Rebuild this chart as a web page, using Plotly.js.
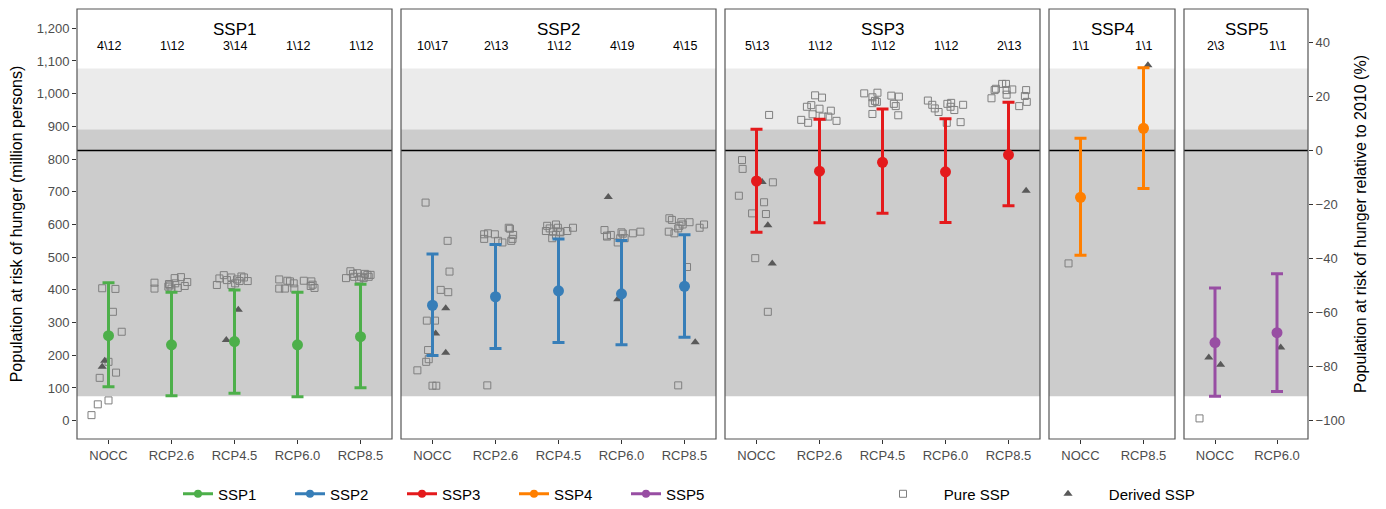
<!DOCTYPE html>
<html>
<head>
<meta charset="utf-8">
<script src="https://cdn.plot.ly/plotly-3.0.1.min.js"></script>
<style>
  html, body { margin: 0; padding: 0; background: #fff; }
  #chart { width: 1386px; height: 509px; }
</style>
</head>
<body>
<div id="chart"></div>
<script>
// Population at risk of hunger by SSP and climate scenario (million persons)
const sspNames = ['SSP1', 'SSP2', 'SSP3', 'SSP4', 'SSP5'];
const sspColors = ['#4daf4a', '#377eb8', '#e41a1c', '#ff7f00', '#984ea3'];

const ssp1Scen = ['NOCC', 'RCP2.6', 'RCP4.5', 'RCP6.0', 'RCP8.5'];
const ssp2Scen = ['NOCC', 'RCP2.6', 'RCP4.5', 'RCP6.0', 'RCP8.5'];
const ssp3Scen = ['NOCC', 'RCP2.6', 'RCP4.5', 'RCP6.0', 'RCP8.5'];
const ssp4Scen = ['NOCC', 'RCP8.5'];
const ssp5Scen = ['NOCC', 'RCP6.0'];

// study counts (derived \ total)
const ssp1Counts = ['4\\12', '1\\12', '3\\14', '1\\12', '1\\12'];
const ssp2Counts = ['10\\17', '2\\13', '1\\12', '4\\19', '4\\15'];
const ssp3Counts = ['5\\13', '1\\12', '1\\12', '1\\12', '2\\13'];
const ssp4Counts = ['1\\1', '1\\1'];
const ssp5Counts = ['2\\3', '1\\1'];

// ensemble mean and range
const ssp1Mean = [260, 232, 242, 232, 257];
const ssp1Hi   = [422, 393, 400, 393, 417];
const ssp1Lo   = [104, 76, 84, 73, 101];
const ssp2Mean = [353, 379, 397, 388, 411];
const ssp2Hi   = [510, 539, 556, 551, 569];
const ssp2Lo   = [199, 221, 239, 232, 255];
const ssp3Mean = [733, 763, 790, 761, 813];
const ssp3Hi   = [891, 922, 953, 923, 974];
const ssp3Lo   = [576, 605, 634, 606, 657];
const ssp4Mean = [683, 894];
const ssp4Hi   = [864, 1079];
const ssp4Lo   = [506, 710];
const ssp5Mean = [239, 269];
const ssp5Hi   = [406, 449];
const ssp5Lo   = [75, 89];

// individual study results: values and horizontal jitter (category units)
const ssp1PureVal = [
  [405, 403, 333, 272, 180, 147, 131, 50, 62, 17],
  [422, 404, 418, 410, 436, 439, 424, 412, 406, 404, 420, 414],
  [415, 435, 445, 438, 438, 427, 427, 415, 430, 432, 441, 420],
  [432, 404, 404, 428, 420, 428, 426, 416, 406, 404, 426, 412],
  [457, 436, 451, 440, 446, 446, 440, 436, 432, 440, 449, 449]
];
const ssp1PureJit = [
  [-0.10, 0.11, 0.07, 0.21, 0.00, 0.12, -0.14, -0.17, 0.00, -0.27],
  [-0.27, -0.27, -0.04, -0.05, 0.05, 0.15, 0.25, 0.21, 0.10, 0.00, 0.06, -0.03],
  [-0.28, -0.24, -0.17, -0.05, 0.15, 0.21, 0.08, -0.05, -0.12, 0.04, 0.11, 0.01],
  [-0.29, -0.29, -0.20, -0.16, -0.06, 0.10, 0.22, 0.24, 0.27, -0.05, -0.12, 0.21],
  [-0.16, -0.23, -0.05, 0.01, 0.11, 0.16, -0.10, 0.05, -0.02, 0.13, -0.12, 0.07]
];
const ssp1DerivVal = [[183, 165], [], [247, 339], [], []];
const ssp1DerivJit = [[-0.06, -0.10], [], [-0.13, 0.06], [], []];

const ssp2PureVal = [
  [667, 550, 456, 400, 393, 306, 306, 216, 188, 180, 154, 107, 107],
  [570, 573, 570, 556, 550, 545, 590, 587, 568, 556, 550, 108],
  [596, 600, 590, 580, 578, 578, 580, 590, 568, 576, 588, 558],
  [583, 566, 568, 576, 572, 558, 558, 573, 578, 545, 563],
  [619, 614, 607, 607, 596, 588, 578, 573, 590, 600, 600, 470, 108]
];
const ssp2PureJit = [
  [-0.11, 0.24, 0.27, 0.13, 0.25, -0.09, 0.04, -0.07, -0.06, -0.10, -0.24, 0.00, 0.06],
  [-0.18, -0.12, -0.01, -0.18, 0.04, 0.11, 0.21, 0.23, 0.28, 0.27, 0.25, -0.13],
  [-0.18, -0.04, -0.01, -0.20, -0.09, 0.02, 0.14, 0.23, -0.04, 0.03, -0.14, -0.10],
  [-0.27, -0.23, -0.17, 0.00, 0.02, -0.02, 0.05, 0.18, 0.30, -0.06, -0.23],
  [-0.24, -0.20, -0.05, 0.08, -0.08, -0.10, -0.25, -0.16, 0.24, 0.31, -0.03, 0.04, -0.10]
];
const ssp2DerivVal = [[344, 267, 208], [], [], [684, 371], [240]];
const ssp2DerivJit = [[0.21, 0.05, 0.21], [], [], [-0.21, -0.06], [0.17]];

const ssp3PureVal = [
  [935, 797, 770, 729, 688, 668, 634, 632, 497, 333],
  [995, 988, 960, 965, 954, 948, 937, 920, 911, 930, 917, 930],
  [1001, 1003, 989, 994, 991, 971, 975, 969, 962, 938, 934, 978],
  [979, 966, 955, 944, 972, 960, 950, 966, 911, 913, 969],
  [986, 1011, 1030, 1030, 1015, 1011, 1013, 997, 1011, 993, 975, 962]
];
const ssp3PureJit = [
  [0.20, -0.23, -0.22, 0.26, -0.28, 0.12, -0.07, 0.15, -0.02, 0.18],
  [-0.07, 0.04, -0.20, -0.13, 0.00, 0.18, -0.11, -0.29, -0.18, 0.14, 0.27, 0.05],
  [-0.29, -0.08, -0.16, 0.14, 0.26, -0.16, -0.09, 0.18, 0.21, -0.16, 0.25, -0.12],
  [-0.28, -0.21, -0.17, -0.11, 0.09, 0.08, 0.14, 0.28, 0.02, 0.24, 0.03],
  [-0.27, -0.22, -0.10, -0.04, -0.20, -0.03, 0.06, -0.03, 0.28, 0.26, 0.29, 0.17]
];
const ssp3DerivVal = [[730, 598, 481], [], [], [], [703]];
const ssp3DerivJit = [[0.09, 0.18, 0.25], [], [], [], [0.28]];

const ssp4PureVal = [[481], []];
const ssp4PureJit = [[-0.19], []];
const ssp4DerivVal = [[], [1087]];
const ssp4DerivJit = [[], [0.07]];

const ssp5PureVal = [[7], []];
const ssp5PureJit = [[-0.25], []];
const ssp5DerivVal = [[193, 171], [224]];
const ssp5DerivJit = [[-0.10, 0.09], [0.06]];

// 2010 reference level and shaded uncertainty bands (million persons)
const base2010 = 826;
const bandDark = [75, 891];
const bandLight = [891, 1077];

// ---------------------------------------------------------------------------
const scen = [ssp1Scen, ssp2Scen, ssp3Scen, ssp4Scen, ssp5Scen];
const counts = [ssp1Counts, ssp2Counts, ssp3Counts, ssp4Counts, ssp5Counts];
const means = [ssp1Mean, ssp2Mean, ssp3Mean, ssp4Mean, ssp5Mean];
const his = [ssp1Hi, ssp2Hi, ssp3Hi, ssp4Hi, ssp5Hi];
const los = [ssp1Lo, ssp2Lo, ssp3Lo, ssp4Lo, ssp5Lo];
const pureV = [ssp1PureVal, ssp2PureVal, ssp3PureVal, ssp4PureVal, ssp5PureVal];
const pureJ = [ssp1PureJit, ssp2PureJit, ssp3PureJit, ssp4PureJit, ssp5PureJit];
const derV = [ssp1DerivVal, ssp2DerivVal, ssp3DerivVal, ssp4DerivVal, ssp5DerivVal];
const derJ = [ssp1DerivJit, ssp2DerivJit, ssp3DerivJit, ssp4DerivJit, ssp5DerivJit];

const FONT = 'Liberation Sans, Arial, sans-serif';
const TICK = '#4d4d4d';
const W = 1386, ML = 77, MR = 78;
const plotW = W - ML - MR;
// panel widths proportional to number of scenarios
const unitPx = 63, gapPx = 9;
const yRange = [-56, 1259];

const traces = [];
const shapes = [];
const annotations = [];
const layout = {
  width: 1386, height: 509,
  margin: {l: ML, r: MR, t: 9, b: 70, autoexpand: false},
  paper_bgcolor: '#ffffff', plot_bgcolor: 'rgba(0,0,0,0)',
  font: {family: FONT, color: '#000'},
  showlegend: true,
  shapes: shapes, annotations: annotations
};

function flatten(vals, jits) {
  const x = [], y = [];
  vals.forEach((arr, i) => arr.forEach((v, j) => { x.push(i + jits[i][j]); y.push(v); }));
  return {x, y};
}

let left = 0;
sspNames.forEach((name, k) => {
  const n = scen[k].length;
  const xa = k === 0 ? 'x' : 'x' + (k + 1);
  const xkey = k === 0 ? 'xaxis' : 'xaxis' + (k + 1);
  const w = n * unitPx;
  layout[xkey] = {
    domain: [left / plotW, Math.min(1, (left + w) / plotW)],
    range: [-0.5, n - 0.5],
    anchor: 'y',
    tickmode: 'array', tickvals: scen[k].map((_, i) => i), ticktext: scen[k],
    ticks: 'outside', ticklen: 4, tickwidth: 1, tickcolor: '#333',
    tickfont: {family: FONT, size: 13, color: TICK},
    showgrid: false, zeroline: false, showline: false, fixedrange: true
  };
  left += w + gapPx;

  const dom = xa + ' domain';
  shapes.push({type: 'rect', xref: dom, yref: 'y', x0: 0, x1: 1, y0: bandDark[0], y1: bandDark[1],
               fillcolor: '#cccccc', line: {width: 0}, layer: 'below'});
  shapes.push({type: 'rect', xref: dom, yref: 'y', x0: 0, x1: 1, y0: bandLight[0], y1: bandLight[1],
               fillcolor: '#ebebeb', line: {width: 0}, layer: 'below'});
  shapes.push({type: 'line', xref: dom, yref: 'y', x0: 0, x1: 1, y0: base2010, y1: base2010,
               line: {color: '#000', width: 1.5}, layer: 'below'});
  shapes.push({type: 'rect', xref: dom, yref: 'y domain', x0: 0, x1: 1, y0: 0, y1: 1,
               fillcolor: 'rgba(0,0,0,0)', line: {color: '#555', width: 1.2}, layer: 'above'});

  annotations.push({xref: xa, yref: 'y', x: (n - 1) / 2, y: 1195, text: name, showarrow: false,
                    font: {family: FONT, size: 17, color: '#000'}});
  counts[k].forEach((c, i) => annotations.push({xref: xa, yref: 'y', x: i, y: 1146, text: c,
                    showarrow: false, font: {family: FONT, size: 12.5, color: '#000'}}));

  const p = flatten(pureV[k], pureJ[k]);
  traces.push({type: 'scatter', mode: 'markers', x: p.x, y: p.y, xaxis: xa, yaxis: 'y',
    name: '\u00a0\u00a0\u00a0\u00a0\u00a0Pure SSP', legend: 'legend2', showlegend: k === 0, hoverinfo: 'y',
    marker: {symbol: 'square-open', size: 7, color: '#7f7f7f', line: {width: 1, color: '#7f7f7f'}}});
  const d = flatten(derV[k], derJ[k]);
  traces.push({type: 'scatter', mode: 'markers', x: d.x, y: d.y, xaxis: xa, yaxis: 'y',
    name: '\u00a0\u00a0\u00a0\u00a0\u00a0Derived SSP', legend: 'legend2', showlegend: k === 0, hoverinfo: 'y',
    marker: {symbol: 'triangle-up', size: 8, color: '#595959'}});

  traces.push({type: 'scatter', mode: 'markers', x: scen[k].map((_, i) => i), y: means[k],
    xaxis: xa, yaxis: 'y', name: name, showlegend: false,
    marker: {symbol: 'circle', size: 11, color: sspColors[k]},
    error_y: {type: 'data', symmetric: false,
      array: his[k].map((h, i) => h - means[k][i]),
      arrayminus: los[k].map((l, i) => means[k][i] - l),
      color: sspColors[k], thickness: 3, width: 6}});
});

// legend entries for the five SSPs
sspNames.forEach((name, k) => {
  traces.push({type: 'scatter', mode: 'lines+markers', x: [null], y: [null], xaxis: 'x', yaxis: 'y',
    name: name, legend: 'legend', showlegend: true,
    line: {color: sspColors[k], width: 3}, marker: {symbol: 'circle', size: 8, color: sspColors[k]}});
});

layout.yaxis = {
  range: yRange, domain: [0, 1], anchor: 'x',
  tickmode: 'array', tickvals: [0, 100, 200, 300, 400, 500, 600, 700, 800, 900, 1000, 1100, 1200],
  tickformat: ',d',
  ticks: 'outside', ticklen: 4, tickwidth: 1, tickcolor: '#333',
  tickfont: {family: FONT, size: 13, color: TICK},
  showgrid: false, zeroline: false, showline: false, fixedrange: true,
  title: {text: 'Population at risk of hunger (million persons)', standoff: 10,
          font: {family: FONT, size: 16, color: '#000'}}
};
layout.yaxis2 = {
  overlaying: 'y', side: 'right', anchor: 'x5',
  range: yRange.map(v => v / base2010 * 100 - 100),
  tickmode: 'array', tickvals: [-100, -80, -60, -40, -20, 0, 20, 40],
  ticks: 'outside', ticklen: 4, tickwidth: 1, tickcolor: '#333',
  tickfont: {family: FONT, size: 13, color: TICK},
  showgrid: false, zeroline: false, showline: false, fixedrange: true,
  title: {text: 'Population at risk of hunger relative to 2010 (%)', standoff: 10,
          font: {family: FONT, size: 16, color: '#000'}}
};
// invisible anchor so the relative axis is always drawn
traces.push({type: 'scatter', mode: 'markers', x: [0], y: [0], xaxis: 'x5', yaxis: 'y2',
  showlegend: false, hoverinfo: 'skip', marker: {opacity: 0}});

layout.legend = {
  orientation: 'h', x: (178 - ML) / plotW, xanchor: 'left', y: -0.128, yanchor: 'middle',
  entrywidth: 67, traceorder: 'normal',
  font: {family: FONT, size: 15, color: '#000'}, bgcolor: 'rgba(0,0,0,0)'
};
layout.legend2 = {
  orientation: 'h', x: (883 - ML) / plotW, xanchor: 'left', y: -0.128, yanchor: 'middle',
  entrywidth: 120, traceorder: 'normal',
  font: {family: FONT, size: 15, color: '#000'}, bgcolor: 'rgba(0,0,0,0)'
};

Plotly.newPlot('chart', traces, layout, {displayModeBar: false, staticPlot: true});
</script>
</body>
</html>
